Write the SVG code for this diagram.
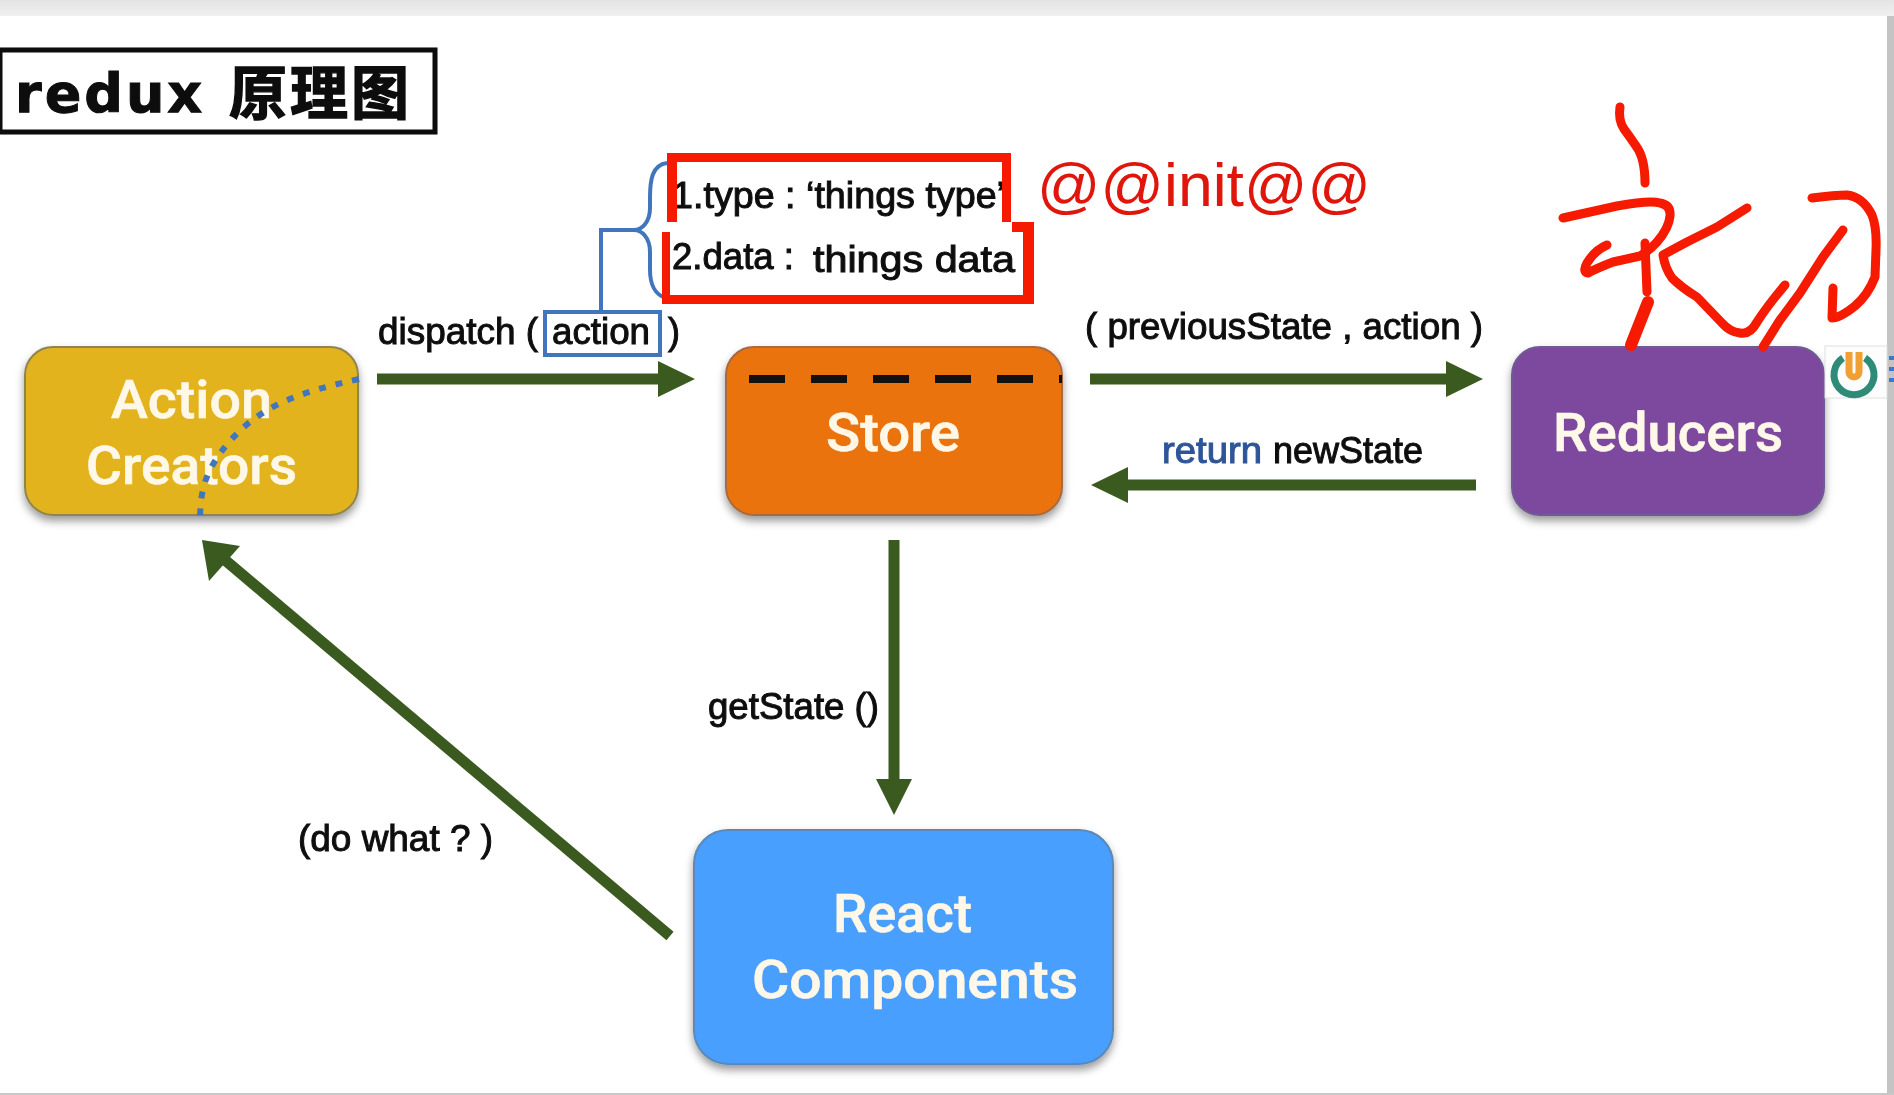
<svg xmlns="http://www.w3.org/2000/svg" width="1894" height="1095" viewBox="0 0 1894 1095">
<defs>
<style>
text{font-family:"Liberation Sans","Noto Sans CJK SC",sans-serif}
.lab{font-size:36px;fill:#0d0d0d;stroke:#0d0d0d;stroke-width:1px}
.ret{fill:#2e5597;stroke:#2e5597}
.nt{font-family:Roboto,"Liberation Sans",sans-serif;font-weight:500;font-size:53px;fill:#fff8e8;stroke:#fff8e8;stroke-width:.6px}
.node{filter:url(#sh)}
.arrow{stroke:#3a5a20;stroke-width:11;fill:none}
.head{fill:#3a5a20}
.blue{stroke:#4176be;fill:none;stroke-width:4}
.ink{stroke:#f51a00;fill:none;stroke-width:9;stroke-linecap:round;stroke-linejoin:round}
</style>
<filter id="sh" x="-10%" y="-10%" width="120%" height="125%"><feDropShadow dx="0" dy="5" stdDeviation="4" flood-color="#000" flood-opacity=".4"/></filter>
<filter id="bl" x="0" y="0" width="100%" height="100%" filterUnits="userSpaceOnUse"><feGaussianBlur stdDeviation="0.7"/></filter>
<linearGradient id="top" x1="0" x2="0" y1="0" y2="1"><stop offset="0" stop-color="#e4e4e4"/><stop offset="1" stop-color="#f0f0f0"/></linearGradient>
</defs>
<rect width="1894" height="1095" fill="#fff"/>
<rect width="1894" height="16" fill="url(#top)"/>
<rect x="1887" y="16" width="7" height="1079" fill="#c4c4c4"/>
<rect y="1093" width="1894" height="2" fill="#c8c8c8"/>

<g id="title" filter="url(#bl)">
<rect x="0" y="50" width="435" height="82" fill="#fff" stroke="#0a0a0a" stroke-width="5"/>
<text x="15" y="112" font-size="54" font-weight="700" fill="#0a0a0a" stroke="#0a0a0a" stroke-width="1" letter-spacing="3" style="font-family:'DejaVu Sans',sans-serif">redux</text>
<text x="229" y="114" font-size="58" font-weight="700" fill="#0a0a0a" letter-spacing="3" stroke="#0a0a0a" stroke-width="1.4" style="font-family:'Noto Sans CJK SC',sans-serif">原理图</text>
</g>

<g id="action-creators" class="node">
<rect x="25" y="347" width="333" height="168" rx="28" fill="#e2b31e" stroke="#8f8650" stroke-width="2"/>
<text class="nt" x="111" y="418" textLength="161" lengthAdjust="spacingAndGlyphs">Action</text>
<text class="nt" x="86" y="484" textLength="211" lengthAdjust="spacingAndGlyphs">Creators</text>
</g>
<g id="store" class="node">
<rect x="726" y="347" width="336" height="168" rx="28" fill="#ea730e" stroke="#a86a40" stroke-width="2"/>
<text class="nt" x="826" y="451" textLength="134" lengthAdjust="spacingAndGlyphs">Store</text>
</g>
<g id="reducers" class="node">
<rect x="1512" y="347" width="312" height="168" rx="28" fill="#7b4a9e" stroke="#6f5a94" stroke-width="2"/>
<text class="nt" x="1553" y="451" textLength="230" lengthAdjust="spacingAndGlyphs">Reducers</text>
</g>
<g id="react-components" class="node">
<rect x="694" y="830" width="419" height="234" rx="34" fill="#4a9ffd" stroke="#5a88b8" stroke-width="2"/>
<text class="nt" x="833" y="932" textLength="139" lengthAdjust="spacingAndGlyphs">React</text>
<text class="nt" x="752" y="998" textLength="326" lengthAdjust="spacingAndGlyphs">Components</text>
</g>

<g id="connectors">
<path class="arrow" d="M377 379H660"/><path class="head" d="M658 361L695 379L658 397Z"/>
<path class="arrow" d="M1090 379H1450"/><path class="head" d="M1446 361L1483 379L1446 397Z"/>
<path class="arrow" d="M1476 485H1125"/><path class="head" d="M1128 467L1091 485L1128 503Z"/>
<path class="arrow" d="M894 540V782"/><path class="head" d="M876 779L894 815L912 779Z"/>
<path class="arrow" d="M670 936L225 560"/><path class="head" d="M202 540L240 546L209 581Z"/>
<path d="M749 379H1062" stroke="#111" stroke-width="8" stroke-dasharray="36 26" fill="none"/>
<path d="M359 379C300 392 262 405 230 441C205 470 200 490 200 522" fill="none" stroke="#4176be" stroke-width="6" stroke-dasharray="7 10"/>
<rect class="blue" x="545" y="312" width="115" height="43"/>
<path class="blue" d="M601 312V230H634"/>
<path class="blue" d="M667 163C652 165 650 180 650 198V208C650 222 642 230 634 230C642 230 650 238 650 252V270C650 284 655 295 666 298"/>
</g>

<g id="labels" filter="url(#bl)">
<text class="lab" x="378" y="344" textLength="160" lengthAdjust="spacingAndGlyphs">dispatch (</text>
<text class="lab" x="552" y="344" textLength="98" lengthAdjust="spacingAndGlyphs">action</text>
<text class="lab" x="668" y="344">)</text>
<text class="lab" x="672" y="208" textLength="333" lengthAdjust="spacingAndGlyphs">1.type : ‘things type’</text>
<text class="lab" x="672" y="269" textLength="122" lengthAdjust="spacingAndGlyphs">2.data :</text>
<text class="lab" x="813" y="272" textLength="202" lengthAdjust="spacingAndGlyphs">things data</text>
<text class="lab" x="1085" y="339" textLength="398" lengthAdjust="spacingAndGlyphs">( previousState , action )</text>
<text class="lab ret" x="1162" y="463" textLength="100" lengthAdjust="spacingAndGlyphs">return</text>
<text class="lab" x="1273" y="463" textLength="150" lengthAdjust="spacingAndGlyphs">newState</text>
<text class="lab" x="708" y="719" textLength="171" lengthAdjust="spacingAndGlyphs">getState ()</text>
<text class="lab" x="298" y="851" textLength="195" lengthAdjust="spacingAndGlyphs">(do what ? )</text>
</g>

<g id="red-box" fill="#f51a00">
<path d="M667 153H1011V222H1002V162H677V222H667Z"/>
<path d="M662 232H670V295H1023V232H1012V222H1034V304H662Z"/>
</g>
<text x="1037" y="206" font-size="62" fill="#e0190f" textLength="334" lengthAdjust="spacingAndGlyphs" filter="url(#bl)">@@init@@</text>

<g id="handwriting">
<path class="ink" d="M1620 107Q1618 120 1624 129Q1630 137 1636 146Q1645 158 1645 183"/>
<path class="ink" d="M1563 218L1617 206Q1650 200 1660 203Q1671 205 1670 216Q1669 228 1657 242Q1650 250 1640 256L1613 262Q1595 269 1588 273Q1582 272 1587 263Q1595 250 1607 245"/>
<path class="ink" d="M1645 243L1647 292"/>
<path class="ink" style="stroke-width:12" d="M1648 302L1631 345"/>
<path class="ink" d="M1747 208L1717 227L1687 242Q1672 250 1663 255Q1665 268 1672 278Q1682 288 1697 297L1722 323Q1730 332 1740 333Q1750 335 1757 322Q1768 305 1785 285"/>
<path class="ink" d="M1843 230L1823 257L1800 293L1780 320L1763 347"/>
<path class="ink" d="M1812 198Q1835 195 1847 195Q1863 197 1872 215Q1877 228 1876 250L1875 277Q1868 295 1855 306Q1840 318 1832 318L1833 288"/>
</g>

<g id="tray-icon">
<rect x="1825" y="346" width="62" height="52" fill="#fdfdfd" stroke="#e0e0e0"/>
<path d="M1843 358A20 20 0 1 0 1865 358" fill="none" stroke="#2e8b77" stroke-width="7"/>
<path d="M1849 352V372A5 5 0 0 0 1859 372V352" fill="none" stroke="#f0a030" stroke-width="7"/>
<path d="M1889 358H1894M1889 369H1894M1889 380H1894" stroke="#3a78d0" stroke-width="4"/>
</g>
</svg>
